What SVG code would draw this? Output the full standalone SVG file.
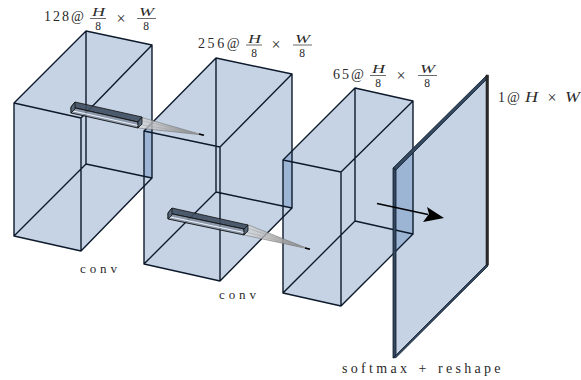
<svg xmlns="http://www.w3.org/2000/svg" width="581" height="380" viewBox="0 0 581 380">
<defs>
<linearGradient id="coneA" gradientUnits="userSpaceOnUse" x1="140" y1="0" x2="205" y2="0"><stop offset="0" stop-color="#dcdcdc" stop-opacity=".7"/><stop offset="1" stop-color="#707070" stop-opacity=".95"/></linearGradient>
<linearGradient id="coneB" gradientUnits="userSpaceOnUse" x1="246" y1="0" x2="310" y2="0"><stop offset="0" stop-color="#dcdcdc" stop-opacity=".7"/><stop offset="1" stop-color="#707070" stop-opacity=".95"/></linearGradient>
</defs>
<style>
text{font-family:"Liberation Serif","Times New Roman",serif;fill:#2a2a2a;font-size:14px}
.n{letter-spacing:2px}
.i{font-style:italic;font-size:12.500px}
.j{font-style:italic;font-size:14px}
.d{font-size:11.500px;text-anchor:middle}
.x{font-size:16px;text-anchor:middle}
.s{font-size:13px;letter-spacing:3.900px}
.l{font-size:14px;letter-spacing:3.300px;word-spacing:1.500px}
.face{fill:#c5d3e5;stroke:none}
.over{fill:#9cb5d5;stroke:none}
.edge{fill:none;stroke:#0d1a2b;stroke-width:1.400;stroke-linejoin:round;stroke-linecap:round}
.bar{stroke:#2a2a2a;stroke-width:.7}
.kt{fill:#414f63;fill-opacity:.92;stroke:#111;stroke-width:.8;stroke-linejoin:round}
.kf{fill:#7d8b9e;fill-opacity:.8;stroke:#111;stroke-width:.9}
.ke{fill:#56677c;stroke:#111;stroke-width:.8;stroke-linejoin:round}
.rail{stroke:#a0a0a0;stroke-width:.5}
.ps{fill:#34495f;stroke:#0d1a2b;stroke-width:.8;stroke-linejoin:round}
</style>
<g id="surfaces">
<polygon class="face" points="14,103 86,31 152,45 152,178 81,251 14,236"/>
<polygon class="face" points="144,131 216,58 292,74 292,208 220,281 144,264"/>
<polygon class="face" points="283,160 355,88 413,101 413,234 341,306 283,293"/>
<polygon class="face" points="393,168 488,75 488,264 393,358"/>
<polygon class="over" points="144,131 152,123 152,178 144,176.300"/>
<polygon class="over" points="283,160 292,151 292,208 283,206"/>
<polygon class="over" points="393,168 413,149 413,234 393,254"/>
</g>
<g id="box1">
<path class="edge" d="M14,103L86,31L152,45L152,178L81,251L14,236ZM14,103L81,118L152,45M81,118V251M86,31V164M14,236L86,164L152,178"/>
</g>
<g id="box2">
<path class="edge" d="M144,131L216,58L292,74L292,208L220,281L144,264ZM144,131L220,147L292,74M220,147V281M216,58V192M144,264L216,192L292,208"/>
</g>
<g id="box3">
<path class="edge" d="M283,160L355,88L413,101L413,234L341,306L283,293ZM283,160L341,172L413,101M341,172V306M355,88V221M283,293L355,221L413,234"/>
</g>
<g id="plane">
<polygon class="ps" points="393,168 396,170 396,355 393,358"/>
<polygon class="ps" points="393,168 487,75 488,78 396,170"/>
<polygon class="ps" points="393,358 487,264 488,266 396,357.500"/>
<rect x="486" y="75" width="2.500" height="190" fill="#2b2b2b" stroke="#111" stroke-width=".5"/>
</g>
<g id="kernel1">
<polygon points="140,117 203,135 138,128" fill="url(#coneA)" stroke="#666" stroke-width=".5"/>
<line class="rail" x1="141" y1="120.500" x2="203" y2="135"/>
<line class="rail" x1="140" y1="124.500" x2="203" y2="135"/>
<line x1="199" y1="134" x2="204" y2="135.200" stroke="#000" stroke-width="1.400"/>
<polygon class="kt" points="75,102 142,117 138,122 71,107"/>
<polygon class="kf" points="71,107 138,122 138,128 71,113"/>
<line x1="71" y1="110.500" x2="138" y2="125.500" stroke="#eef2f7" stroke-width="1.200"/>
<polygon class="ke" points="71,107 75,102 75,109 71,113"/>
<polygon class="ke" points="138,122 142,117 142,124 138,128"/>
</g>
<g id="kernel2">
<polygon points="246,224 309,249 244,235" fill="url(#coneB)" stroke="#666" stroke-width=".5"/>
<line class="rail" x1="247" y1="228" x2="309" y2="249"/>
<line class="rail" x1="246" y1="232" x2="309" y2="249"/>
<line x1="305" y1="248" x2="310" y2="249.200" stroke="#000" stroke-width="1.400"/>
<polygon class="kt" points="172,208 248,225 244,229 168,213"/>
<polygon class="kf" points="168,213 244,229 244,235 168,219"/>
<line x1="168" y1="216.500" x2="244" y2="232.500" stroke="#eef2f7" stroke-width="1.200"/>
<polygon class="ke" points="168,213 172,208 172,215 168,219"/>
<polygon class="ke" points="244,229 248,225 248,231 244,235"/>
</g>
<g id="connectors">
<line x1="377" y1="203.500" x2="428" y2="214.500" stroke="#000" stroke-width="1.500"/>
<polygon points="444,218 423,222 429,214 427,207" fill="#000"/>
</g>
<g id="label1">
<text class="n" x="44" y="21">128@</text>
<text class="i" x="92" y="16" textLength="13" lengthAdjust="spacingAndGlyphs">H</text><line class="bar" x1="90" y1="18.500" x2="106" y2="18.500"/><text class="d" x="98" y="30">8</text>
<text class="x" x="121" y="23.500">×</text>
<text class="i" x="139" y="16" textLength="15" lengthAdjust="spacingAndGlyphs">W</text><line class="bar" x1="137" y1="18.500" x2="156" y2="18.500"/><text class="d" x="146" y="30">8</text>
</g>
<g id="label2">
<text class="n" x="198" y="48" style="letter-spacing:2.600px">256@</text>
<text class="i" x="248" y="42.500" textLength="13" lengthAdjust="spacingAndGlyphs">H</text><line class="bar" x1="246" y1="45" x2="262" y2="45"/><text class="d" x="254" y="56.500">8</text>
<text class="x" x="276" y="50">×</text>
<text class="i" x="295" y="42.500" textLength="15" lengthAdjust="spacingAndGlyphs">W</text><line class="bar" x1="293" y1="45" x2="312" y2="45"/><text class="d" x="302" y="56.500">8</text>
</g>
<g id="label3">
<text class="n" x="333" y="79">65@</text>
<text class="i" x="372" y="73" textLength="13" lengthAdjust="spacingAndGlyphs">H</text><line class="bar" x1="370" y1="75.500" x2="386" y2="75.500"/><text class="d" x="378" y="87">8</text>
<text class="x" x="401" y="80.500">×</text>
<text class="i" x="420" y="73" textLength="15" lengthAdjust="spacingAndGlyphs">W</text><line class="bar" x1="418" y1="75.500" x2="437" y2="75.500"/><text class="d" x="427" y="87">8</text>
</g>
<g id="label4">
<text class="n" x="498" y="102">1@</text>
<text class="j" x="525" y="102" textLength="13" lengthAdjust="spacingAndGlyphs">H</text>
<text class="x" x="552" y="102.500">×</text>
<text class="j" x="565" y="102" textLength="15" lengthAdjust="spacingAndGlyphs">W</text>
</g>
<text x="80" y="273" class="s">conv</text>
<text x="219" y="299" class="s">conv</text>
<text x="342" y="373" class="l">softmax + reshape</text>
</svg>
